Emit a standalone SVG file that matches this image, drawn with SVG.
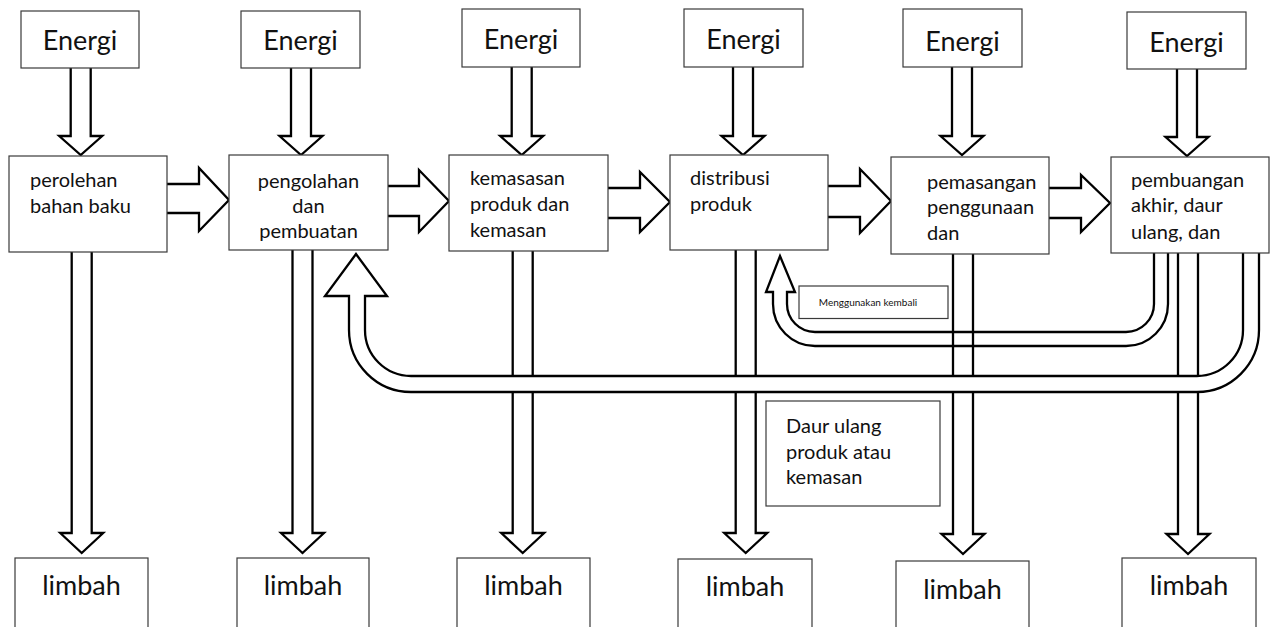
<svg xmlns="http://www.w3.org/2000/svg" xmlns:xlink="http://www.w3.org/1999/xlink" width="1273" height="627" viewBox="0 0 1273 627">
  <style>
    .box { fill: #ffffff; stroke: #3a3a3a; stroke-width: 1.2; }
    .arrow { fill: #ffffff; stroke: #000000; stroke-width: 2.3; stroke-linejoin: miter; }
    .chan { fill: none; stroke: #000000; stroke-width: 2.3; }
    .t { font-family: Lato, "Liberation Sans", sans-serif; fill: #111111; }
    .big { font-size: 27px; text-anchor: middle; }
    .mid { font-size: 20px; }
    .small { font-size: 10px; text-anchor: middle; }
  </style>
  <defs>
    <!-- downward hollow arrow, top of shaft at y=0 -->
    <path id="energyArrow" class="arrow" d="M -10 0 V 72 H -21.5 L 0 91 L 21.5 72 H 10 V 0 Z"/>
    <path id="wasteArrow" class="arrow" d="M -10 0 V 285 H -21.5 L 0 305 L 21.5 285 H 10 V 0 Z"/>
  </defs>
  <rect width="1273" height="627" fill="#ffffff"/>

  <g id="connectors">
    <!-- energy inputs -->
    <use xlink:href="#energyArrow" x="80.7" y="64"/>
    <use xlink:href="#energyArrow" x="301" y="64"/>
    <use xlink:href="#energyArrow" x="521.7" y="64"/>
    <use xlink:href="#energyArrow" x="743" y="64"/>
    <use xlink:href="#energyArrow" x="962" y="64"/>
    <use xlink:href="#energyArrow" x="1187" y="65"/>

    <!-- stage to stage -->
    <path class="arrow" d="M 160 184 H 199 V 168 L 229 200 L 199 231 V 213 H 160 Z"/>
    <path class="arrow" d="M 380 186 H 419 V 170 L 449 201 L 419 232 V 216 H 380 Z"/>
    <path class="arrow" d="M 600 188 H 640 V 172 L 670 202 L 640 232 V 218 H 600 Z"/>
    <path class="arrow" d="M 820 186 H 860 V 169 L 891 201 L 860 233 V 217 H 820 Z"/>
    <path class="arrow" d="M 1041 188 H 1081 V 175 L 1110 203 L 1081 232 V 218 H 1041 Z"/>

    <!-- waste outputs -->
    <use xlink:href="#wasteArrow" x="81.7" y="248"/>
    <use xlink:href="#wasteArrow" x="302.5" y="248"/>
    <use xlink:href="#wasteArrow" x="522.7" y="248"/>
    <use xlink:href="#wasteArrow" x="745.7" y="248"/>
    <use xlink:href="#wasteArrow" x="963" y="249"/>
    <use xlink:href="#wasteArrow" x="1188" y="249"/>

    <!-- reuse loop back to distribution -->
    <path class="chan" d="M 1168 250 V 304 A 42 42 0 0 1 1126 346 H 815 A 42 42 0 0 1 773 304 V 292 H 766 L 780 256 L 795 292 H 787 V 304 A 28 28 0 0 0 815 332 H 1126 A 28 28 0 0 0 1154 304 V 250"/>

    <!-- recycling loop back to processing -->
    <path fill="#ffffff" stroke="none" d="M 1259 248 V 330 A 62 62 0 0 1 1197 392 H 411 A 62 62 0 0 1 349 330 V 296 H 325 L 356 254 L 387 296 H 365 V 330 A 46 46 0 0 0 411 376 H 1197 A 46 46 0 0 0 1243 330 V 248 Z"/>
    <path class="chan" d="M 1259 248 V 330 A 62 62 0 0 1 1197 392 H 411 A 62 62 0 0 1 349 330 V 296 H 325 L 356 254 L 387 296 H 365 V 330 A 46 46 0 0 0 411 376 H 1197 A 46 46 0 0 0 1243 330 V 248"/>
  </g>

  <!-- energy sources -->
  <g id="energi-1"><rect class="box" x="21" y="11" width="118" height="57"/><text class="t big" x="80" y="50">Energi</text></g>
  <g id="energi-2"><rect class="box" x="241" y="11" width="119" height="57"/><text class="t big" x="300.5" y="50">Energi</text></g>
  <g id="energi-3"><rect class="box" x="462" y="9" width="118" height="58"/><text class="t big" x="521" y="48.5">Energi</text></g>
  <g id="energi-4"><rect class="box" x="684" y="9" width="119" height="58"/><text class="t big" x="743.5" y="48.5">Energi</text></g>
  <g id="energi-5"><rect class="box" x="903" y="9" width="119" height="58"/><text class="t big" x="962.5" y="50.5">Energi</text></g>
  <g id="energi-6"><rect class="box" x="1127" y="12" width="119" height="57"/><text class="t big" x="1186.5" y="52">Energi</text></g>

  <!-- life-cycle stages -->
  <g id="stage-1">
    <rect class="box" x="9" y="156" width="158" height="96"/>
    <text class="t mid" x="30" y="187">perolehan</text>
    <text class="t mid" x="30" y="213">bahan baku</text>
  </g>
  <g id="stage-2">
    <rect class="box" x="229" y="155" width="159" height="95"/>
    <text class="t mid" x="308.5" y="188" text-anchor="middle">pengolahan</text>
    <text class="t mid" x="308.5" y="212.5" text-anchor="middle">dan</text>
    <text class="t mid" x="308.5" y="237.5" text-anchor="middle">pembuatan</text>
  </g>
  <g id="stage-3">
    <rect class="box" x="449" y="155" width="159" height="96"/>
    <text class="t mid" x="470" y="185">kemasasan</text>
    <text class="t mid" x="470" y="211">produk dan</text>
    <text class="t mid" x="470" y="237">kemasan</text>
  </g>
  <g id="stage-4">
    <rect class="box" x="670" y="155" width="158" height="95"/>
    <text class="t mid" x="690" y="185">distribusi</text>
    <text class="t mid" x="690" y="211">produk</text>
  </g>
  <g id="stage-5">
    <rect class="box" x="891" y="157" width="158" height="97"/>
    <text class="t mid" x="927" y="188.5">pemasangan</text>
    <text class="t mid" x="927" y="213.5">penggunaan</text>
    <text class="t mid" x="927" y="239.5">dan</text>
  </g>
  <g id="stage-6">
    <rect class="box" x="1111" y="157" width="158" height="96"/>
    <text class="t mid" x="1131" y="187">pembuangan</text>
    <text class="t mid" x="1131" y="212">akhir, daur</text>
    <text class="t mid" x="1131" y="238.5">ulang, dan</text>
  </g>

  <!-- loop labels -->
  <g id="label-reuse">
    <rect class="box" x="799" y="286" width="149" height="32.5"/>
    <text class="t small" x="868" y="306">Menggunakan kembali</text>
  </g>
  <g id="label-recycle">
    <rect class="box" x="766" y="401" width="174" height="105"/>
    <text class="t mid" x="786" y="433">Daur ulang</text>
    <text class="t mid" x="786" y="458.5">produk atau</text>
    <text class="t mid" x="786" y="484">kemasan</text>
  </g>

  <!-- waste sinks -->
  <g id="limbah-1"><rect class="box" x="15" y="558" width="133" height="80"/><text class="t big" x="81.5" y="595">limbah</text></g>
  <g id="limbah-2"><rect class="box" x="237" y="558" width="132" height="80"/><text class="t big" x="303" y="594.5">limbah</text></g>
  <g id="limbah-3"><rect class="box" x="457" y="558" width="133" height="80"/><text class="t big" x="523.5" y="594.5">limbah</text></g>
  <g id="limbah-4"><rect class="box" x="678" y="559" width="134" height="80"/><text class="t big" x="745" y="596">limbah</text></g>
  <g id="limbah-5"><rect class="box" x="896" y="561" width="133" height="80"/><text class="t big" x="962.5" y="598.5">limbah</text></g>
  <g id="limbah-6"><rect class="box" x="1122" y="558" width="134" height="80"/><text class="t big" x="1189" y="595">limbah</text></g>
</svg>
